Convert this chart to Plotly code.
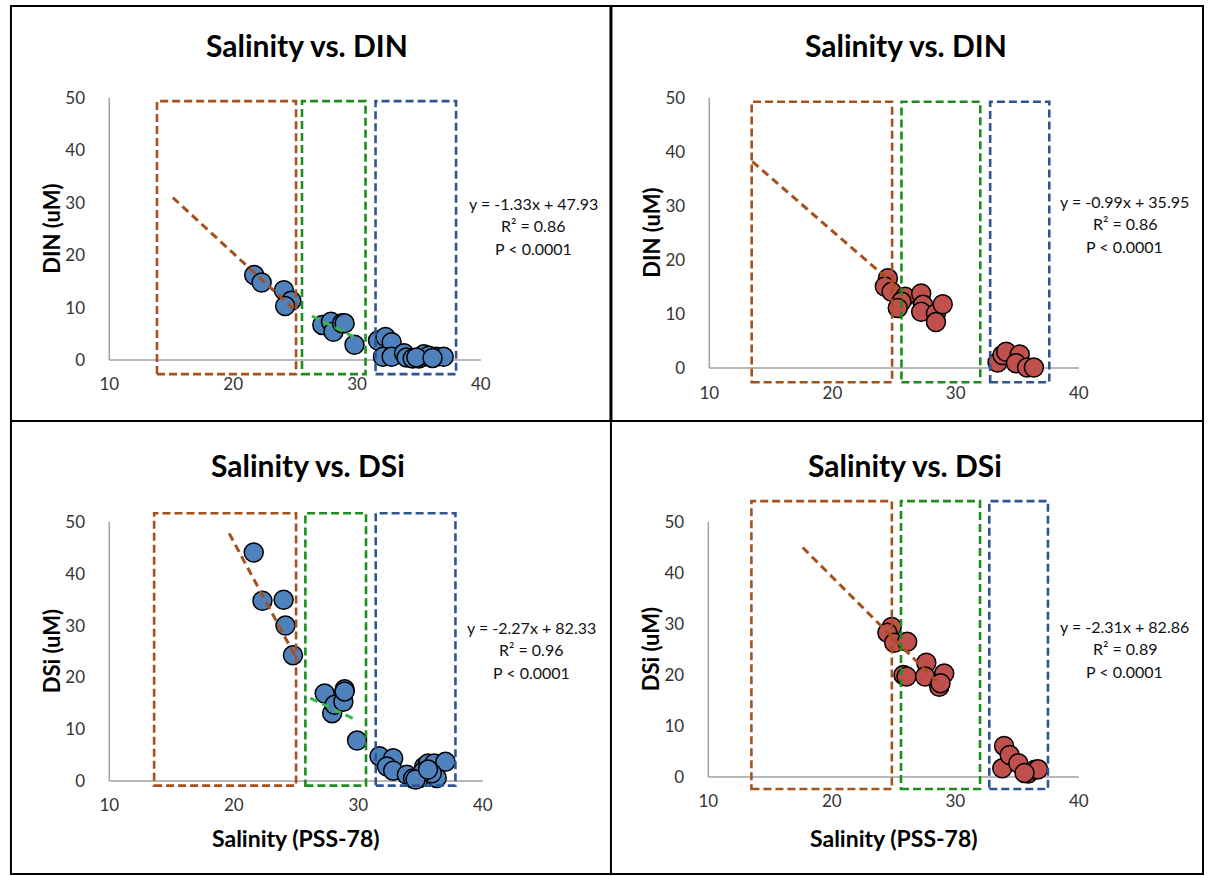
import plotly.graph_objects as go

# ---- data -------------------------------------------------------------
# Panel A: salinity vs DIN (blue stations)
sal_a = [21.7, 22.3, 24.1, 24.7, 24.2, 27.2, 27.9, 28.1, 28.8, 29.0, 29.8,
         31.7, 32.3, 32.8, 32.1, 32.8, 33.8, 34.0, 34.5, 35.0, 35.4, 35.9,
         36.4, 37.0, 35.4, 35.8, 34.8, 36.1]
din_a = [16.2, 14.8, 13.3, 11.3, 10.3, 6.7, 7.3, 5.4, 7.0, 7.0, 2.9,
         3.7, 4.4, 3.4, 0.6, 0.6, 1.3, 0.5, 0.3, 0.3, 0.6, 0.6,
         0.6, 0.6, 1.1, 0.8, 0.5, 0.4]

# Panel B: salinity vs DIN (red stations)
sal_b = [24.5, 24.25, 24.8, 25.9, 25.6, 25.3, 27.2, 27.35, 27.2, 28.4, 28.95,
         28.4, 33.4, 33.8, 34.1, 35.2, 34.9, 35.8, 36.35]
din_b = [16.6, 15.1, 14.1, 13.2, 12.3, 11.1, 13.8, 11.7, 10.4, 10.1, 11.8,
         8.5, 1.0, 2.4, 3.0, 2.5, 0.9, 0.1, 0.1]

# Panel C: salinity vs DSi (blue stations)
sal_c = [21.6, 22.3, 24.0, 24.15, 24.75, 27.3, 27.9, 28.1, 28.9, 28.8, 28.9,
         29.9, 31.7, 32.8, 32.3, 32.8, 33.9, 34.4, 34.9, 35.3, 35.6, 36.1,
         37.0, 36.3, 35.9, 35.2, 34.6, 35.6]
dsi_c = [44.1, 34.8, 35.0, 30.0, 24.3, 16.9, 13.1, 14.7, 17.7, 15.3, 17.3,
         7.8, 4.8, 4.4, 2.8, 2.0, 1.2, 0.5, 0.6, 2.8, 3.4, 3.4,
         3.7, 0.6, 1.5, 1.8, 0.3, 2.2]

# Panel D: salinity vs DSi (red stations)
sal_d = [24.85, 24.5, 25.05, 26.1, 25.8, 26.05, 27.65, 27.55, 29.1, 28.7, 28.8,
         33.95, 33.8, 34.4, 35.1, 35.9, 36.45, 36.7, 35.6]
dsi_d = [29.4, 28.3, 26.3, 26.5, 20.0, 19.7, 22.4, 19.7, 20.3, 17.7, 18.4,
         6.1, 1.7, 4.3, 2.7, 0.7, 1.4, 1.5, 0.8]

# Segment-wise trend lines (end points)
trend_a_low_x, trend_a_low_y = [15.13, 25.0], [31.0, 9.5]
trend_a_mid_x, trend_a_mid_y = [26.36, 29.83], [8.4, 4.3]
trend_b_low_x, trend_b_low_y = [13.5, 25.2], [38.2, 15.1]
trend_c_low_x, trend_c_low_y = [19.63, 24.95], [47.8, 24.0]
trend_c_mid_x, trend_c_mid_y = [26.15, 29.8], [16.0, 11.8]
trend_d_low_x, trend_d_low_y = [17.64, 28.5], [45.0, 18.7]

# Overall regression statistics
eq_a = ["y = -1.33x + 47.93", "R² = 0.86", "P < 0.0001"]
eq_b = ["y = -0.99x + 35.95", "R² = 0.86", "P < 0.0001"]
eq_c = ["y = -2.27x + 82.33", "R² = 0.96", "P < 0.0001"]
eq_d = ["y = -2.31x + 82.86", "R² = 0.89", "P < 0.0001"]

# Mixing zones (salinity bounds) and their vertical extent, per panel
zones_a = [(13.85, 25.08), (25.56, 30.69), (31.5, 38.0)]
zones_b = [(13.44, 24.84), (25.6, 32.0), (32.8, 37.6)]
zones_c = [(13.6, 25.0), (25.75, 30.62), (31.4, 37.8)]
zones_d = [(13.49, 24.86), (25.6, 32.0), (32.75, 37.5)]
zone_y_a, zone_y_b, zone_y_c, zone_y_d = (-2.7, 49.4), (-2.65, 49.3), (-0.9, 51.7), (-2.35, 54.1)

x_ticks = [10, 20, 30, 40]
y_ticks = [0, 10, 20, 30, 40, 50]

titles = ["Salinity vs. DIN", "Salinity vs. DIN", "Salinity vs. DSi", "Salinity vs. DSi"]
y_titles = ["DIN (uM)", "DIN (uM)", "DSi (uM)", "DSi (uM)"]
x_title = "Salinity (PSS-78)"

# ---- styling ----------------------------------------------------------
W, H = 1209, 876
FONT = "Lato"
BLUE = "#4F81BD"
RED = "#C0504D"
BROWN = "#A5511E"
GREEN = "#1E8C1E"
LIGHT_GREEN = "#3DB54A"
NAVY = "#2E5590"
AXIS_GRAY = "#A0A0A0"
ZONE_COLORS = [BROWN, GREEN, NAVY]

XR = [9.5, 40.5]
YR = [-3.5, 55.5]


def px(x):
    return x / W


def py(y):
    return 1 - y / H


# pixel geometry of each panel: (x of sal=10, x of sal=40, y of 0, y of 50)
geom = [(106, 480, 360, 98), (710, 1082, 368, 98),
        (106, 482, 781, 522), (709, 1082, 777, 522)]

panels = [
    dict(sal=sal_a, val=din_a, color=BLUE,
         trends=[(trend_a_low_x, trend_a_low_y, BROWN), (trend_a_mid_x, trend_a_mid_y, LIGHT_GREEN)],
         eq=eq_a, eq_pos=(533, 203), zones=zones_a, zy=zone_y_a),
    dict(sal=sal_b, val=din_b, color=RED,
         trends=[(trend_b_low_x, trend_b_low_y, BROWN)],
         eq=eq_b, eq_pos=(1128, 201), zones=zones_b, zy=zone_y_b),
    dict(sal=sal_c, val=dsi_c, color=BLUE,
         trends=[(trend_c_low_x, trend_c_low_y, BROWN), (trend_c_mid_x, trend_c_mid_y, LIGHT_GREEN)],
         eq=eq_c, eq_pos=(531, 627), zones=zones_c, zy=zone_y_c),
    dict(sal=sal_d, val=dsi_d, color=RED,
         trends=[(trend_d_low_x, trend_d_low_y, BROWN)],
         eq=eq_d, eq_pos=(1128, 626), zones=zones_d, zy=zone_y_d),
]

fig = go.Figure()
layout = dict(width=W, height=H, margin=dict(l=0, r=0, t=0, b=0),
              paper_bgcolor="white", plot_bgcolor="white", showlegend=False,
              font=dict(family=FONT, color="#222"))
shapes, annotations = [], []

for i, (p, g) in enumerate(zip(panels, geom)):
    n = i + 1
    xa, ya = ("x" if n == 1 else f"x{n}"), ("y" if n == 1 else f"y{n}")
    x0, x1, y0, y50 = g
    pxu = (x1 - x0) / 30.0
    pyu = (y0 - y50) / 50.0
    left, right = x0 - (10 - XR[0]) * pxu, x1 + (XR[1] - 40) * pxu
    bottom, top = y0 - YR[0] * pyu, y50 - (YR[1] - 50) * pyu

    layout["xaxis" if n == 1 else f"xaxis{n}"] = dict(
        domain=[px(left), px(right)], range=XR, anchor=ya,
        tickvals=x_ticks, showgrid=False, zeroline=False, showline=False,
        ticks="", tickfont=dict(size=17, family=FONT, color="#333"),
        ticklabelstandoff=-6)
    layout["yaxis" if n == 1 else f"yaxis{n}"] = dict(
        domain=[py(bottom), py(top)], range=YR, anchor=xa,
        tickvals=y_ticks, showgrid=False, zeroline=False, showline=False,
        ticks="", tickfont=dict(size=17, family=FONT, color="#333"),
        ticklabelstandoff=17)

    # axis lines through the origin of the data frame
    shapes.append(dict(type="line", xref=xa, yref=ya, x0=10, x1=40, y0=0, y1=0,
                       line=dict(color=AXIS_GRAY, width=1.5), layer="below"))
    shapes.append(dict(type="line", xref=xa, yref=ya, x0=10, x1=10, y0=0, y1=50,
                       line=dict(color=AXIS_GRAY, width=1.5), layer="below"))

    # dashed mixing-zone boxes
    for (zx0, zx1), col in zip(p["zones"], ZONE_COLORS):
        shapes.append(dict(type="rect", xref=xa, yref=ya, x0=zx0, x1=zx1,
                           y0=p["zy"][0], y1=p["zy"][1],
                           line=dict(color=col, width=2.6, dash="8px,4px"),
                           fillcolor="rgba(0,0,0,0)", layer="above"))

    fig.add_trace(go.Scatter(
        x=p["sal"], y=p["val"], mode="markers", xaxis=xa, yaxis=ya,
        marker=dict(size=19, color=p["color"], line=dict(color="black", width=1.5)),
        cliponaxis=False))
    for tx, ty, col in p["trends"]:
        fig.add_trace(go.Scatter(x=tx, y=ty, mode="lines", xaxis=xa, yaxis=ya,
                                 line=dict(color=col, width=3, dash="8px,5px")))

    # panel title
    cx = (x0 + x1) / 2
    annotations.append(dict(text=f"<b>{titles[i]}</b>", xref="paper", yref="paper",
                            x=px(cx + 12), y=py(45 if i < 2 else 465),
                            showarrow=False, font=dict(size=30, family=FONT, color="#000"),
                            xanchor="center", yanchor="middle"))
    # y-axis title
    annotations.append(dict(text=f"<b>{y_titles[i]}</b>", xref="paper", yref="paper",
                            x=px(48 if i % 2 == 0 else 651), y=py((y0 + y50) / 2),
                            textangle=-90, showarrow=False,
                            font=dict(size=22, family=FONT, color="#000"),
                            xanchor="center", yanchor="middle"))
    # x-axis title on the lower panels
    if i >= 2:
        annotations.append(dict(text=f"<b>{x_title}</b>", xref="paper", yref="paper",
                                x=px(cx), y=py(838), showarrow=False,
                                font=dict(size=23, family=FONT, color="#000"),
                                xanchor="center", yanchor="middle"))
    # regression statistics
    ex, ey = p["eq_pos"]
    for k, line in enumerate(p["eq"]):
        annotations.append(dict(text=line, xref="paper", yref="paper",
                                x=px(ex), y=py(ey + 22.5 * k), showarrow=False,
                                font=dict(size=16, family=FONT, color="#111"),
                                xanchor="center", yanchor="middle"))

# panel frames
shapes.append(dict(type="rect", xref="paper", yref="paper", x0=px(7), x1=px(1207),
                   y0=py(874), y1=py(6), line=dict(color="black", width=2)))
shapes.append(dict(type="line", xref="paper", yref="paper", x0=px(611), x1=px(611),
                   y0=py(6), y1=py(421), line=dict(color="black", width=3)))
shapes.append(dict(type="line", xref="paper", yref="paper", x0=px(611), x1=px(611),
                   y0=py(421), y1=py(874), line=dict(color="black", width=2)))
shapes.append(dict(type="line", xref="paper", yref="paper", x0=px(7), x1=px(1207),
                   y0=py(421), y1=py(421), line=dict(color="black", width=2)))

layout["shapes"] = shapes
layout["annotations"] = annotations
fig.update_layout(**layout)
fig.write_html("out.html")
